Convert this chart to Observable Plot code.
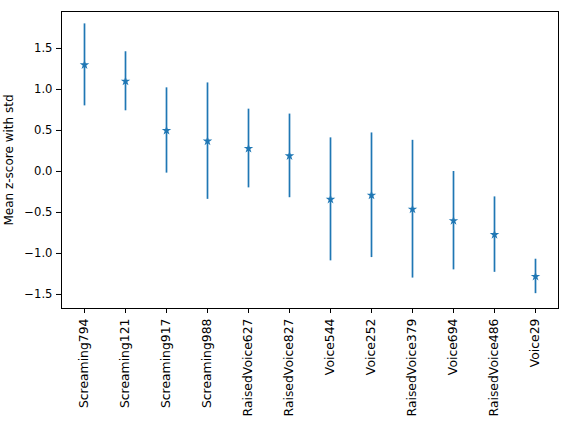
<!DOCTYPE html>
<html>
<head>
<meta charset="utf-8">
<script src="https://cdn.jsdelivr.net/npm/d3@7"></script>
<script src="https://cdn.jsdelivr.net/npm/@observablehq/plot@0.6"></script>
<style>
  html, body { margin: 0; padding: 0; background: #fff; }
  #chart svg { display: block; }
</style>
</head>
<body>
<div id="chart"></div>
<script>
// Recordings, ordered by mean z-score
const names = [
  "Screaming794", "Screaming121", "Screaming917", "Screaming988",
  "RaisedVoice627", "RaisedVoice827", "Voice544", "Voice252",
  "RaisedVoice379", "Voice694", "RaisedVoice486", "Voice29"
];
// Mean z-score per recording
const means = [1.30, 1.10, 0.50, 0.37, 0.28, 0.19, -0.34, -0.29, -0.46, -0.60, -0.77, -1.28];
// Standard deviation per recording (error bar half-length)
const stds = [0.50, 0.36, 0.52, 0.71, 0.48, 0.51, 0.75, 0.76, 0.84, 0.60, 0.46, 0.21];
// Y axis ticks
const yTicks = [-1.5, -1.0, -0.5, 0.0, 0.5, 1.0, 1.5];

const rows = names.map((name, i) => ({
  name,
  mean: means[i],
  low: means[i] - stds[i],
  high: means[i] + stds[i]
}));

const blue = "#1f77b4";

const chart = Plot.plot({
  width: 561,
  height: 426,
  marginLeft: 61,
  marginRight: 3,
  marginTop: 11,
  marginBottom: 118,
  style: { fontFamily: "DejaVu Sans", fontSize: "12px", color: "#000", background: "#fff" },
  x: { type: "point", domain: names, padding: 0.56 },
  y: { domain: [-1.671, 1.951] },
  marks: [
    Plot.frame({ stroke: "#000", strokeWidth: 1 }),
    Plot.axisX({
      tickRotate: -90,
      tickSize: 5,
      tickPadding: 5,
      label: null,
      fontSize: 12.4
    }),
    Plot.axisY({
      ticks: yTicks,
      tickFormat: d3.format(".1f"),
      tickSize: 5,
      tickPadding: 4,
      label: null,
      fontSize: 11.6
    }),
    Plot.axisY({
      ticks: [],
      tickSize: 0,
      label: "Mean z-score with std",
      labelAnchor: "center",
      labelArrow: "none",
      labelOffset: 57,
      fontSize: 12
    }),
    Plot.ruleX(rows, { x: "name", y1: "low", y2: "high", stroke: blue, strokeWidth: 1.7 }),
    Plot.dot(rows, { x: "name", y: "mean", symbol: "star", fill: blue, stroke: "none", r: 3 })
  ]
});

document.getElementById("chart").appendChild(chart);
</script>
</body>
</html>
